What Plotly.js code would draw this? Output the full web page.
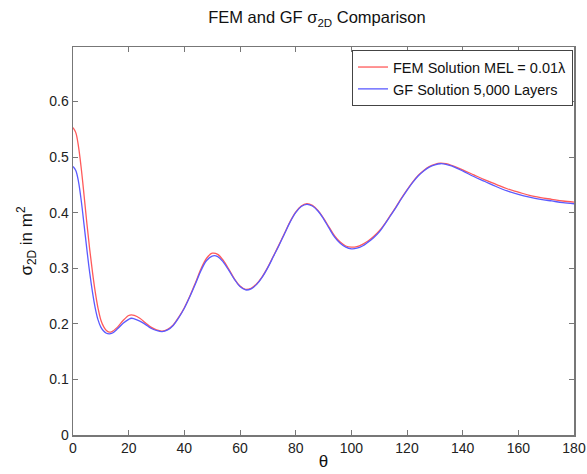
<!DOCTYPE html>
<html>
<head>
<meta charset="utf-8">
<script src="https://cdn.plot.ly/plotly-3.0.1.min.js"></script>
<style>html,body{margin:0;padding:0;background:#fff;}#chart{width:587px;height:474px;}</style>
</head>
<body>
<div id="chart"></div>
<script>
const theta = [0,1,2,3,4,5,6,7,8,9,10,11,12,13,14,16,18,20,21,22,24,26,28,30,32,34,36,38,40,42,44,46,48,50,52,54,56,58,60,62,64,66,68,70,72,74,76,78,80,82,84,86,88,90,92,94,96,98,100,102,104,106,108,110,112,114,116,118,120,122,124,126,128,130,132,134,136,140,144,148,152,156,160,164,168,172,176,180];
const femSigma = [0.553,0.544,0.518,0.478,0.430,0.380,0.334,0.293,0.257,0.228,0.207,0.195,0.188,0.185,0.186,0.194,0.206,0.215,0.216,0.215,0.210,0.202,0.194,0.189,0.187,0.190,0.198,0.212,0.229,0.250,0.274,0.299,0.318,0.327,0.325,0.314,0.298,0.281,0.268,0.262,0.264,0.272,0.285,0.302,0.322,0.342,0.363,0.384,0.401,0.412,0.416,0.413,0.404,0.390,0.374,0.358,0.347,0.340,0.338,0.339,0.343,0.349,0.357,0.367,0.380,0.395,0.410,0.426,0.441,0.455,0.467,0.476,0.483,0.487,0.489,0.488,0.485,0.477,0.468,0.459,0.451,0.443,0.437,0.431,0.427,0.424,0.421,0.419];
const gfSigma = [0.483,0.476,0.455,0.420,0.377,0.333,0.292,0.257,0.228,0.207,0.194,0.187,0.183,0.182,0.183,0.191,0.201,0.208,0.210,0.209,0.205,0.199,0.192,0.188,0.186,0.189,0.197,0.211,0.228,0.249,0.272,0.296,0.314,0.322,0.321,0.311,0.296,0.280,0.267,0.261,0.263,0.271,0.284,0.301,0.321,0.341,0.362,0.383,0.400,0.411,0.415,0.412,0.403,0.389,0.372,0.356,0.345,0.338,0.335,0.336,0.340,0.347,0.355,0.365,0.379,0.394,0.409,0.425,0.440,0.454,0.466,0.475,0.482,0.486,0.488,0.487,0.484,0.475,0.465,0.456,0.447,0.439,0.433,0.428,0.424,0.421,0.418,0.416];
const seriesNames = ['FEM Solution MEL = 0.01λ', 'GF Solution 5,000 Layers'];
const xTicks = [0,20,40,60,80,100,120,140,160,180];
const yTicks = [0,0.1,0.2,0.3,0.4,0.5,0.6];

const fam = 'Liberation Sans, Arial, sans-serif';
const font = {family: fam, size: 14, color: '#222'};
const traces = [
  {x: theta, y: femSigma, name: seriesNames[0], mode: 'lines', line: {color: 'rgb(255,90,90)', width: 1.3, shape: 'spline'}},
  {x: theta, y: gfSigma, name: seriesNames[1], mode: 'lines', line: {color: 'rgb(90,90,255)', width: 1.3, shape: 'spline'}}
];
const axisCommon = {showline: true, linecolor: '#777', linewidth: 1.5, mirror: 'ticks', ticks: 'inside', ticklen: 5, tickcolor: '#777', showgrid: false, zeroline: false, tickfont: font};
const layout = {
  width: 587, height: 474,
  margin: {l: 73, r: 13, t: 47, b: 39},
  paper_bgcolor: '#fff', plot_bgcolor: '#fff',
  font: font,
  showlegend: true,
  title: {text: 'FEM and GF σ<sub>2D</sub> Comparison', x: 0.54, xanchor: 'center', y: 0.975, yanchor: 'top', font: {family: fam, size: 16.5, color: '#111'}},
  xaxis: Object.assign({}, axisCommon, {range: [0, 180], tickvals: xTicks, title: {text: 'θ', standoff: 0, font: {family: fam, size: 17, color: '#111'}}}),
  yaxis: Object.assign({}, axisCommon, {range: [0, 0.698], tickvals: yTicks, ticktext: yTicks.map(String), title: {text: 'σ<sub>2D</sub> in m<sup>2</sup>', standoff: 12, font: {family: fam, size: 17, color: '#111'}}}),
  legend: {x: 0.998, y: 0.992, xanchor: 'right', yanchor: 'top', bgcolor: '#fff', bordercolor: '#444', borderwidth: 1, font: {family: fam, size: 14.5, color: '#111'}, tracegroupgap: 0, itemwidth: 30}
};
Plotly.newPlot('chart', traces, layout, {displayModeBar: false, staticPlot: true});
</script>
</body>
</html>
